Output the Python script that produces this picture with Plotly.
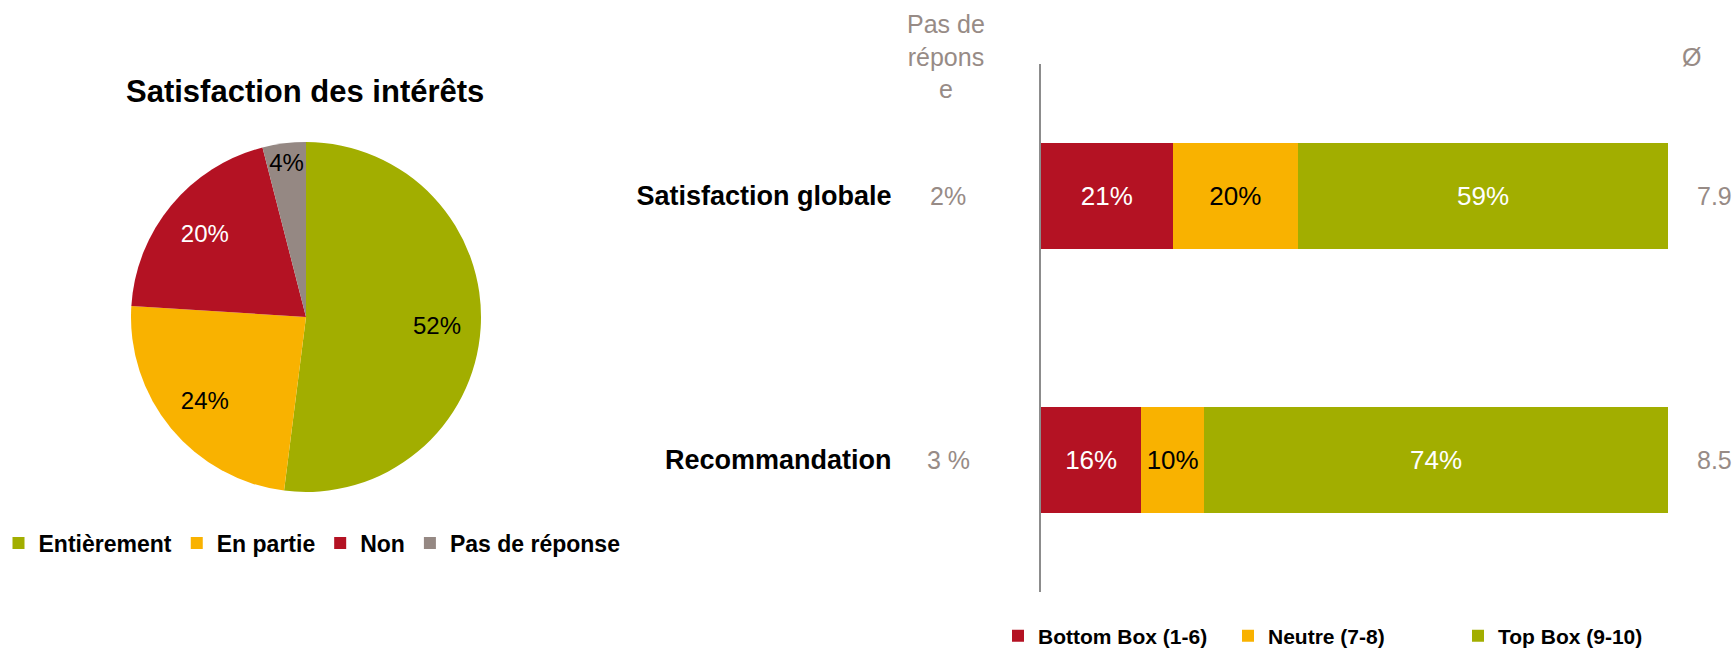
import plotly.graph_objects as go

# ---- data ----
pie_labels = ["Entièrement", "En partie", "Non", "Pas de réponse"]
pie_values = [52, 24, 20, 4]
pie_colors = ["#a2ae00", "#f9b200", "#b41223", "#958883"]
pie_text_colors = ["black", "black", "white", "black"]

bar_categories = ["Satisfaction globale", "Recommandation"]
bar_series = ["Bottom Box (1-6)", "Neutre (7-8)", "Top Box (9-10)"]
bottom_box = [21, 16]
neutre = [20, 10]
top_box = [59, 74]
bar_colors = ["#b41223", "#f9b200", "#a2ae00"]
bar_text_colors = [["white", "white"], ["black", "black"], ["white", "white"]]
no_answer = ["2%", "3 %"]
averages = ["7.9", "8.5"]

FONT = "Liberation Sans, Arial, sans-serif"
GREY_TXT = "#978b86"
W, H = 1735, 648
PIE_DOMAIN = dict(x=[131 / W, 481 / W], y=[(H - 492) / H, (H - 142) / H])

fig = go.Figure()

# coloured slices
fig.add_trace(go.Pie(
    labels=pie_labels, values=pie_values, sort=False, direction="clockwise", rotation=0,
    marker=dict(colors=pie_colors, line=dict(width=0)),
    textinfo="none", domain=PIE_DOMAIN, legend="legend", hoverinfo="label+percent",
))
# transparent ring carrying the slice labels (places them toward the outer part of each slice)
fig.add_trace(go.Pie(
    labels=pie_labels, values=pie_values, sort=False, direction="clockwise", rotation=0,
    hole=0.5, marker=dict(colors=["rgba(0,0,0,0)"] * len(pie_values), line=dict(width=0)),
    texttemplate="%{value}%", textposition="inside", insidetextorientation="horizontal",
    textfont=dict(family=FONT, size=24, color=pie_text_colors),
    domain=PIE_DOMAIN, showlegend=False, hoverinfo="skip",
))

for name, vals, col, tcol in zip(bar_series, [bottom_box, neutre, top_box], bar_colors, bar_text_colors):
    fig.add_trace(go.Bar(
        name=name, y=bar_categories, x=vals, orientation="h",
        marker=dict(color=col, line=dict(width=0)),
        text=[f"{v}%" for v in vals], textposition="inside", insidetextanchor="middle",
        textfont=dict(family=FONT, size=26, color=tcol),
        width=0.405, legend="legend2", xaxis="x", yaxis="y",
    ))

annotations = [
    dict(text="<b>Satisfaction des intérêts</b>", x=305 / W, y=(H - 92) / H, xref="paper", yref="paper",
         xanchor="center", yanchor="middle", showarrow=False, font=dict(family=FONT, size=31, color="black")),
    dict(text="Pas de<br>répons<br>e", x=946 / W, y=(H - 56) / H, xref="paper", yref="paper",
         xanchor="center", yanchor="middle", showarrow=False, font=dict(family=FONT, size=25, color=GREY_TXT)),
    dict(text="Ø", x=1691 / W, y=(H - 57) / H, xref="paper", yref="paper",
         xanchor="center", yanchor="middle", showarrow=False, font=dict(family=FONT, size=25, color=GREY_TXT)),
]
for cat, na, avg in zip(bar_categories, no_answer, averages):
    annotations.append(dict(text=na, x=948 / W, y=cat, xref="paper", yref="y", xanchor="center",
                            yanchor="middle", showarrow=False, font=dict(family=FONT, size=25, color=GREY_TXT)))
    annotations.append(dict(text=avg, x=1734 / W, y=cat, xref="paper", yref="y", xanchor="right",
                            yanchor="middle", showarrow=False, font=dict(family=FONT, size=25, color=GREY_TXT)))

fig.update_layout(
    width=W, height=H, margin=dict(l=0, r=0, t=0, b=0, autoexpand=False),
    paper_bgcolor="white", plot_bgcolor="white",
    barmode="stack", bargap=0.6,
    font=dict(family=FONT, color="black"),
    uniformtext=dict(minsize=24, mode="show"),
    xaxis=dict(domain=[1041 / W, 1668 / W], range=[0, 100], visible=False, fixedrange=True),
    yaxis=dict(domain=[(H - 592) / H, (H - 64) / H], type="category", range=[1.5, -0.5],
               showline=True, linecolor="#8c8c8c", linewidth=2, ticks="", showgrid=False,
               zeroline=False, ticklabelstandoff=142, fixedrange=True,
               tickfont=dict(family=FONT, size=27, color="black", weight="bold")),
    legend=dict(orientation="h", x=312 / W, xanchor="center", y=(H - 543) / H, yanchor="middle",
                font=dict(family=FONT, size=23, color="black", weight="bold"),
                itemclick=False, bgcolor="rgba(0,0,0,0)"),
    legend2=dict(orientation="h", x=998 / W, xanchor="left", y=(H - 636) / H, yanchor="middle",
                 traceorder="normal", entrywidth=185, entrywidthmode="pixels",
                 font=dict(family=FONT, size=21, color="black", weight="bold"),
                 itemclick=False, bgcolor="rgba(0,0,0,0)"),
    annotations=annotations,
    showlegend=True,
)

fig.write_html("out.html", config={"displayModeBar": False},
               post_script="document.body.style.margin='0';document.body.style.overflow='hidden';")
